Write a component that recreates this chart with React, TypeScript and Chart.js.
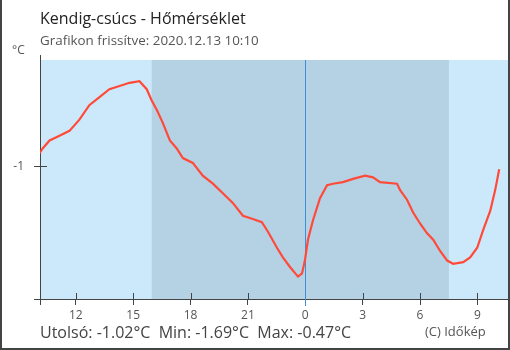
import React, { useEffect, useRef } from "react";
import { Chart, registerables } from "chart.js";

Chart.register(...registerables);

// hours relative to midnight (negative = previous day)
const hours = [
  -13.89, -13.73, -13.37, -12.85, -12.33, -11.81, -11.29, -10.76, -10.24, -9.71,
  -9.19, -8.67, -8.29, -8.03, -7.76, -7.45, -7.08, -6.72, -6.4, -5.88,
  -5.36, -4.83, -4.31, -3.79, -3.26, -2.74, -2.27, -1.95, -1.48, -1.17,
  -0.8, -0.38, -0.17, -0.02, 0.14, 0.4, 0.77, 1.14, 1.45, 1.97,
  2.5, 3.13, 3.54, 3.91, 4.8, 4.96, 5.32, 5.64, 6.01, 6.37,
  6.69, 7.05, 7.42, 7.73, 8.26, 8.62, 8.99, 9.3, 9.67, 9.93, 10.14,
];
const temps = [
  -0.92, -0.89, -0.84, -0.81, -0.78, -0.71, -0.62, -0.57, -0.52, -0.5,
  -0.48, -0.47, -0.52, -0.59, -0.65, -0.73, -0.84, -0.89, -0.95, -0.98,
  -1.06, -1.11, -1.17, -1.23, -1.31, -1.33, -1.35, -1.41, -1.51, -1.57,
  -1.63, -1.69, -1.67, -1.59, -1.46, -1.34, -1.2, -1.12, -1.11, -1.1,
  -1.08, -1.06, -1.07, -1.1, -1.11, -1.15, -1.21, -1.29, -1.36, -1.42,
  -1.46, -1.53, -1.59, -1.61, -1.6, -1.57, -1.51, -1.4, -1.28, -1.15, -1.02,
];
const xTickValues = [-12, -9, -6, -3, 0, 3, 6, 9];
const yTickValues = [-1];
const nightStart = -8.03; // sunset
const nightEnd = 7.51; // sunrise

const titleText = "Kendig-csúcs - Hőmérséklet";
const subtitleText = "Grafikon frissítve: 2020.12.13 10:10";
const unitText = "°C";
const statsText = "Utolsó: -1.02°C  Min: -1.69°C  Max: -0.47°C";
const creditText = "(C) Időkép";

const FONT = "'Open Sans', 'Noto Sans', sans-serif";

export default function App() {
  const ref = useRef<HTMLCanvasElement | null>(null);

  useEffect(() => {
    if (!ref.current) return;

    const decor = {
      id: "decor",
      beforeDraw(chart: any) {
        const { ctx, chartArea: a, scales } = chart;
        const xs = scales.x;
        ctx.save();
        ctx.fillStyle = "#ffffff";
        ctx.fillRect(0, 0, chart.width, chart.height);
        ctx.fillStyle = "#cce9fb";
        ctx.fillRect(a.left, a.top, a.right - a.left, a.bottom - a.top);
        const n1 = xs.getPixelForValue(nightStart);
        const n2 = xs.getPixelForValue(nightEnd);
        ctx.fillStyle = "#b5d2e5";
        ctx.fillRect(n1, a.top, n2 - n1, a.bottom - a.top);
        ctx.restore();
      },
      beforeDatasetsDraw(chart: any) {
        const { ctx, chartArea: a, scales } = chart;
        const xs = scales.x;
        const ys = scales.y;
        ctx.save();
        ctx.strokeStyle = "#444";
        ctx.lineWidth = 1;
        ctx.beginPath();
        ctx.moveTo(Math.round(a.left) + 0.5, 55);
        ctx.lineTo(Math.round(a.left) + 0.5, a.bottom + 6);
        ctx.moveTo(34, Math.round(a.bottom) + 0.5);
        ctx.lineTo(509, Math.round(a.bottom) + 0.5);
        xTickValues.forEach((v) => {
          const px = Math.round(xs.getPixelForValue(v)) + 0.5;
          ctx.moveTo(px, a.bottom - 6);
          ctx.lineTo(px, a.bottom);
        });
        yTickValues.forEach((v) => {
          const py = Math.round(ys.getPixelForValue(v)) + 0.5;
          ctx.moveTo(a.left, py);
          ctx.lineTo(a.left + 7, py);
        });
        ctx.stroke();
        const m = Math.round(xs.getPixelForValue(0)) + 0.5;
        ctx.strokeStyle = "#3f8fd6";
        ctx.beginPath();
        ctx.moveTo(m, a.top);
        ctx.lineTo(m, a.bottom + 7);
        ctx.stroke();
        ctx.restore();
      },
      afterDraw(chart: any) {
        const { ctx } = chart;
        ctx.save();
        ctx.textBaseline = "middle";
        ctx.textAlign = "left";
        ctx.fillStyle = "#222";
        ctx.font = `16px ${FONT}`;
        ctx.fillText(titleText, 40, 19);
        ctx.fillStyle = "#555";
        ctx.font = `13.4px ${FONT}`;
        ctx.fillText(subtitleText, 40, 41);
        ctx.font = `12px ${FONT}`;
        ctx.fillText(unitText, 12, 51);
        ctx.fillStyle = "#444";
        ctx.font = `16px ${FONT}`;
        ctx.fillText(statsText, 40, 333);
        ctx.fillStyle = "#555";
        ctx.font = `13px ${FONT}`;
        ctx.fillText(creditText, 425, 332);
        ctx.fillStyle = "#444";
        ctx.fillRect(0, 0, 2, 350);
        ctx.fillRect(508, 0, 2, 350);
        ctx.fillRect(0, 348, 510, 2);
        ctx.restore();
      },
    };

    const chart = new Chart(ref.current, {
      type: "line",
      data: {
        datasets: [
          {
            data: hours.map((h, i) => ({ x: h, y: temps[i] })),
            borderColor: "#ff4a3a",
            borderWidth: 2.2,
            pointRadius: 0,
            tension: 0,
            fill: false,
          },
        ],
      },
      options: {
        animation: false,
        responsive: false,
        devicePixelRatio: 1,
        layout: { padding: { top: 60, right: 2, left: 0, bottom: 0 } },
        plugins: { legend: { display: false }, tooltip: { enabled: false } },
        scales: {
          x: {
            type: "linear",
            min: -13.87,
            max: 10.6,
            afterBuildTicks: (s: any) => {
              s.ticks = xTickValues.map((v) => ({ value: v }));
            },
            afterFit: (s: any) => {
              s.height = 51;
            },
            ticks: {
              color: "#555",
              font: { family: FONT, size: 12 },
              maxRotation: 0,
              padding: 3,
              callback: (v: any) => String((((Number(v) % 24) + 24) % 24)),
            },
            grid: { drawOnChartArea: false, drawTicks: true, tickLength: 6, color: "#444" },
            border: { color: "#444" },
          },
          y: {
            min: -1.83,
            max: -0.3375,
            afterBuildTicks: (s: any) => {
              s.ticks = yTickValues.map((v) => ({ value: v }));
            },
            afterFit: (s: any) => {
              s.width = 40;
            },
            ticks: {
              color: "#555",
              font: { family: FONT, size: 12 },
              padding: 10,
              callback: (v: any) => String(v),
            },
            grid: { drawOnChartArea: false, drawTicks: true, tickLength: 6, color: "#444" },
            border: { color: "#444" },
          },
        },
      },
      plugins: [decor],
    } as any);

    return () => chart.destroy();
  }, []);

  return (
    <div style={{ position: "fixed", left: 0, top: 0, width: 510, height: 350 }}>
      <canvas ref={ref} width={510} height={350} style={{ width: 510, height: 350 }} />
    </div>
  );
}
